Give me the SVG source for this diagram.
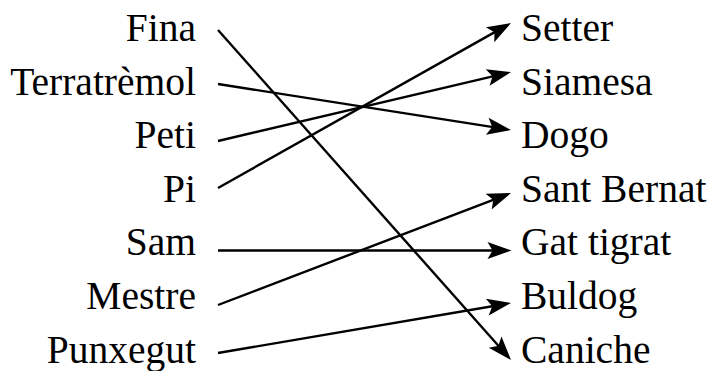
<svg xmlns="http://www.w3.org/2000/svg" width="708" height="371" viewBox="0 0 708 371">
<style>
text{font-family:"Liberation Serif","Times New Roman",serif;font-size:39.5px;fill:#000}
.l{text-anchor:end}
.r{text-anchor:start}
#connectors line{stroke:#000;stroke-width:2.4;fill:none;marker-end:url(#a)}
</style>
<defs>
<marker id="a" markerUnits="userSpaceOnUse" orient="auto" refX="0" refY="0" markerWidth="40" markerHeight="40" overflow="visible">
<path d="M10,0 L-14,-8.5 L-9,0 L-14,8.5 Z" fill="#000"/>
</marker>
</defs>
<rect width="708" height="371" fill="#fff"/>
<g id="connectors">
<line x1="218" y1="30" x2="504.4" y2="352.5"/>
<line x1="218" y1="84" x2="501.1" y2="128.4"/>
<line x1="218" y1="141" x2="501.3" y2="74.3"/>
<line x1="218" y1="188" x2="502.3" y2="27.9"/>
<line x1="218" y1="250.5" x2="501.5" y2="250.5"/>
<line x1="218" y1="305" x2="501.7" y2="196.6"/>
<line x1="218" y1="353" x2="501.1" y2="304.7"/>
</g>
<g id="n-fina"><text class="l" x="196" y="41">Fina</text></g>
<g id="n-terratremol"><text class="l" x="196" y="94.6">Terratrèmol</text></g>
<g id="n-peti"><text class="l" x="196" y="148.2">Peti</text></g>
<g id="n-pi"><text class="l" x="196" y="201.8">Pi</text></g>
<g id="n-sam"><text class="l" x="196" y="255.4">Sam</text></g>
<g id="n-mestre"><text class="l" x="196" y="309">Mestre</text></g>
<g id="n-punxegut"><text class="l" x="196" y="362.6">Punxegut</text></g>
<g id="n-setter"><text class="r" x="521" y="41">Setter</text></g>
<g id="n-siamesa"><text class="r" x="521" y="94.6">Siamesa</text></g>
<g id="n-dogo"><text class="r" x="521" y="148.2">Dogo</text></g>
<g id="n-santbernat"><text class="r" x="521" y="201.8">Sant Bernat</text></g>
<g id="n-gattigrat"><text class="r" x="521" y="255.4">Gat tigrat</text></g>
<g id="n-buldog"><text class="r" x="521" y="309">Buldog</text></g>
<g id="n-caniche"><text class="r" x="521" y="362.6">Caniche</text></g>
</svg>
